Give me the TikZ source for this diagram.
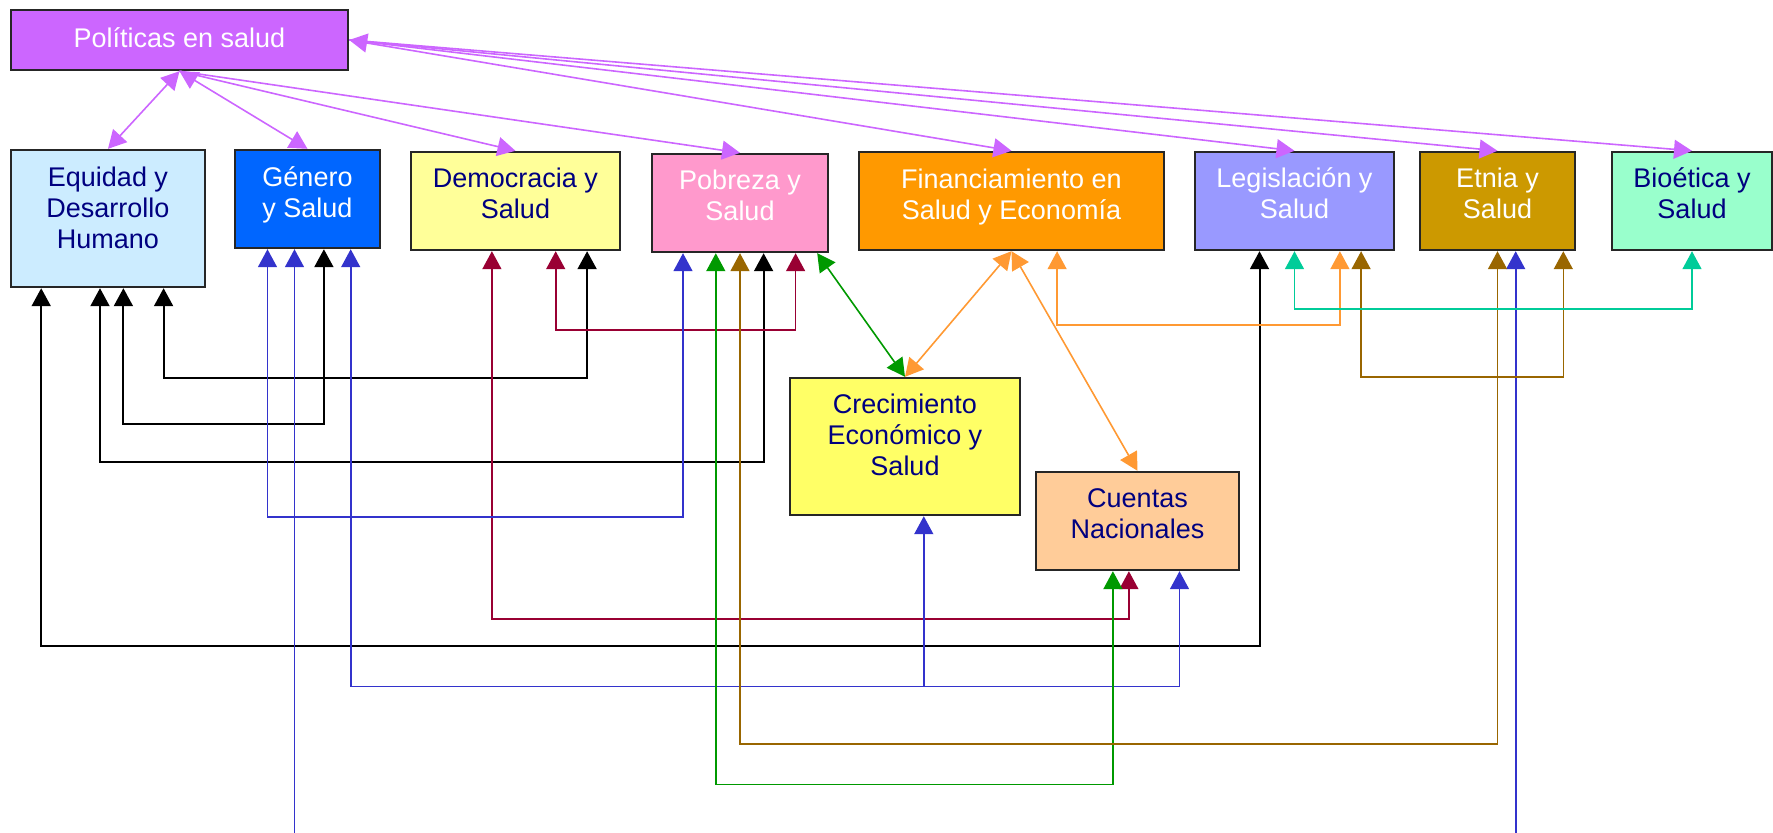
\documentclass[tikz,border=0pt]{standalone}
\usepackage{fontspec}
\setmainfont{Liberation Sans}
\usetikzlibrary{arrows.meta}

\definecolor{morado}{HTML}{CC66FF}
\definecolor{celeste}{HTML}{CCECFF}
\definecolor{azulgen}{HTML}{0066FF}
\definecolor{amarillo}{HTML}{FFFF99}
\definecolor{rosa}{HTML}{FF99CC}
\definecolor{naranja}{HTML}{FF9900}
\definecolor{lila}{HTML}{9999FF}
\definecolor{ocre}{HTML}{CC9900}
\definecolor{menta}{HTML}{99FFCC}
\definecolor{limon}{HTML}{FFFF66}
\definecolor{durazno}{HTML}{FFCC99}
\definecolor{marino}{HTML}{000080}
\definecolor{azulln}{HTML}{3333CC}
\definecolor{granate}{HTML}{990033}
\definecolor{verde}{HTML}{009900}
\definecolor{naranjaln}{HTML}{FF9933}
\definecolor{cafe}{HTML}{996600}
\definecolor{turquesa}{HTML}{00CC99}

\begin{document}
\begin{tikzpicture}[x=0.5pt, y=-0.5pt, >={Triangle[length=9pt,width=9.5pt]}]
        \tikzstyle{caja} = [rectangle, draw=black!85, line width=1.2pt, inner sep=0pt, align=center, font=\fontsize{13.5}{15.5}\selectfont]
        \tikzstyle{dos} = [caja, minimum height=49pt, text depth=7.5pt]
        \tikzstyle{tres} = [caja, minimum height=68.5pt, text depth=11pt]
        \tikzstyle{enlace} = [line width=0.8pt, <->]
        \tikzstyle{negro} = [black, line width=1pt, <->]
        \useasboundingbox (0,0) rectangle (1773,832);
        \clip (0,0) rectangle (1773,832);
        % cajas
        \node[caja, fill=morado, text=white, minimum width=168.5pt, minimum height=30pt, text depth=2.8pt] (pol) at (179.5,40) {Políticas en salud};
        \node[tres, fill=celeste, text=marino, minimum width=97pt] (equ) at (108,218.5) {Equidad y\\Desarrollo\\Humano};
        \node[dos, fill=azulgen, text=white, minimum width=72.5pt, text depth=6.6pt] (gen) at (307.5,199) {Género\\y Salud};
        \node[dos, fill=amarillo, text=marino, minimum width=104.5pt] (dem) at (515.5,201) {Democracia y\\Salud};
        \node[dos, fill=rosa, text=white, minimum width=88pt] (pob) at (740,203) {Pobreza y\\Salud};
        \node[dos, fill=naranja, text=white, minimum width=152.5pt, text depth=7.2pt] (fin) at (1011.5,201) {Financiamiento en\\Salud y Economía};
        \node[dos, fill=lila, text=white, minimum width=99.5pt] (leg) at (1294.5,201) {Legislación y\\Salud};
        \node[dos, fill=ocre, text=white, minimum width=77.5pt] (etn) at (1497.5,201) {Etnia y\\Salud};
        \node[dos, fill=menta, text=marino, minimum width=80pt] (bio) at (1692,201) {Bioética y\\Salud};
        \node[tres, fill=limon, text=marino, minimum width=115pt, text depth=12pt] (cre) at (905,446.5) {Crecimiento\\Económico y\\Salud};
        \node[dos, fill=durazno, text=marino, minimum width=101.5pt] (cue) at (1137.5,521) {Cuentas\\Nacionales};
        % desde Politicas
        \draw[enlace, morado] (pol.south) -- (equ.north);
        \draw[enlace, morado] (pol.south) -- (gen.north);
        \draw[enlace, morado, -> ] (pol.south) -- (dem.north);
        \draw[enlace, morado, -> ] (pol.south) -- (pob.north);
        \draw[enlace, morado] (pol.east) -- (fin.north);
        \draw[enlace, morado, -> ] (pol.east) -- (leg.north);
        \draw[enlace, morado, -> ] (pol.east) -- (etn.north);
        \draw[enlace, morado, -> ] (pol.east) -- (bio.north);
        % negras
        \draw[negro] ([xshift=-33.4pt]equ.south) -- ++(0,357.6) -| ([xshift=-17.5pt]leg.south);
        \draw[negro] ([xshift=-4pt]equ.south) -- ++(0,174) -| ([xshift=11.8pt]pob.south);
        \draw[negro] ([xshift=7.7pt]equ.south) -- ++(0,136) -| ([xshift=8.2pt]gen.south);
        \draw[negro] ([xshift=27.8pt]equ.south) -- ++(0,90) -| ([xshift=35.8pt]dem.south);
        % granate
        \draw[enlace, granate] ([xshift=20.1pt]dem.south) -- ++(0,78.7) -| ([xshift=27.8pt]pob.south);
        \draw[enlace, granate] ([xshift=-11.8pt]dem.south) -- ++(0,368) -| ([xshift=-4.3pt]cue.south);
        % azules
        \draw[enlace, azulln] ([xshift=-20pt]gen.south) -- ++(0,267.8) -| ([xshift=-28.5pt]pob.south);
        \draw[enlace, azulln] ([xshift=-6.5pt]gen.south) -- ++(0,640) -| ([xshift=9.1pt]etn.south);
        \draw[enlace, azulln] ([xshift=21.6pt]gen.south) -- ++(0,437.4) -| ([xshift=21pt]cue.south);
        \draw[enlace, azulln, <-] ([xshift=9.4pt]cre.south) -- ++(0,170.4);
        % verdes
        \draw[enlace, verde] ([xshift=-12.1pt]pob.south) -- ++(0,531.4) -| ([xshift=-12.3pt]cue.south);
        \draw[enlace, verde] ([xshift=-6pt]pob.south east) -- (cre.north);
        % naranjas
        \draw[enlace, naranjaln] (fin.south) -- (cre.north);
        \draw[enlace, naranjaln] (fin.south) -- (cue.north);
        \draw[enlace, naranjaln] ([xshift=22.8pt]fin.south) -- ++(0,73.5) -| ([xshift=22.7pt]leg.south);
        % cafes y turquesa
        \draw[enlace, cafe] ([xshift=33.3pt]leg.south) -- ++(0,125.8) -| ([xshift=32.9pt]etn.south);
        \draw[enlace, cafe] (pob.south) -- ++(0,491) -| (etn.south);
        \draw[enlace, turquesa] (leg.south) -- ++(0,58) -| (bio.south);
\end{tikzpicture}
\end{document}
